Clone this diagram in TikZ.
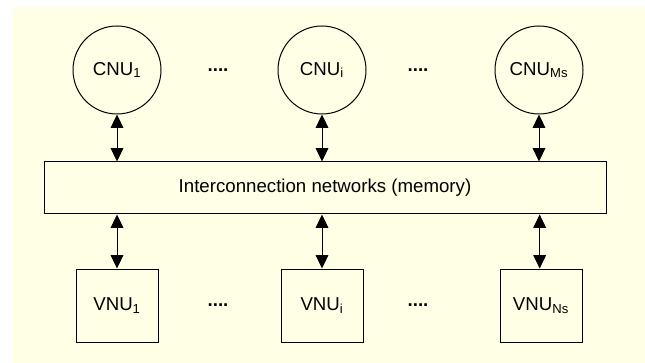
\documentclass[tikz,border=0pt]{standalone}
\usepackage{fontspec}
\setmainfont{Liberation Sans}
\usetikzlibrary{arrows.meta}
\definecolor{bgyellow}{RGB}{255,255,229}
\begin{document}
\begin{tikzpicture}[x=0.75pt,y=-0.75pt,
  font=\fontsize{14}{16}\selectfont,
  unit/.style={draw=black, line width=0.75pt, fill=bgyellow, inner sep=0pt},
  cnu/.style={unit, circle, minimum size=66pt},
  vnu/.style={unit, rectangle, minimum width=61.5pt, minimum height=54.75pt},
  netbox/.style={unit, rectangle, minimum width=421.5pt, minimum height=39pt},
  link/.style={{Triangle[length=10pt,width=9.5pt]}-{Triangle[length=10pt,width=9.5pt]}, line width=0.75pt},
  dots/.style={font=\fontsize{14}{16}\selectfont\bfseries, inner sep=0pt}]
\useasboundingbox (0,0) rectangle (645,363);
\fill[bgyellow] (12,7) rectangle (645,363);
% CNUs
\node[cnu] (c1) at (117,70) {CNU\textsubscript{1}};
\node[cnu] (c2) at (322,70) {CNU\textsubscript{i}};
\node[cnu] (c3) at (539,70) {CNU\textsubscript{Ms}};
\node[dots] (d1) at (218,70) {....};
\node[dots] (d2) at (418,70) {....};
% network
\node[netbox] (net) at (325,188) {Interconnection networks (memory)};
% VNUs
\node[vnu] (v1) at (117,305.5) {VNU\textsubscript{1}};
\node[vnu] (v2) at (322,305.5) {VNU\textsubscript{i}};
\node[vnu] (v3) at (541,305.5) {VNU\textsubscript{Ns}};
\node[dots] (d3) at (218,305.5) {....};
\node[dots] (d4) at (418,305.5) {....};
% links
\draw[link] (c1.south) -- (c1.south |- net.north);
\draw[link] (c2.south) -- (c2.south |- net.north);
\draw[link] (c3.south) -- (c3.south |- net.north);
\draw[link] (net.south -| v1.north) -- (v1.north);
\draw[link] (net.south -| v2.north) -- (v2.north);
\draw[link] ([xshift=-1pt]net.south -| v3.north) -- ([xshift=-1pt]v3.north);
\end{tikzpicture}
\end{document}
